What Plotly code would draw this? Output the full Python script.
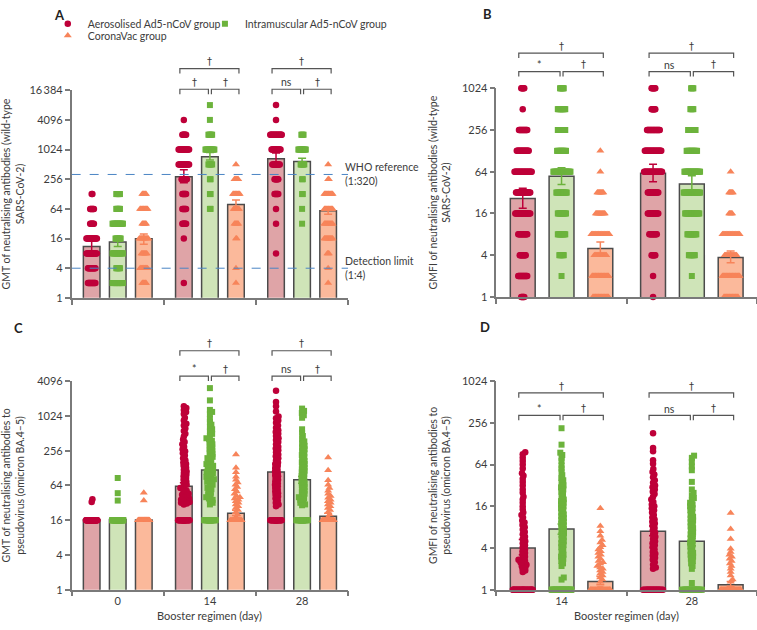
import numpy as np
import plotly.graph_objects as go

# ------------------------------------------------------------------ data
GROUPS = ["Aerosolised Ad5-nCoV group", "Intramuscular Ad5-nCoV group", "CoronaVac group"]
DAYS_AC = ["0", "14", "28"]
DAYS_BD = ["14", "28"]

# Panel A: wild-type GMT; 2-fold dilution levels and participants at each level (per day 0/14/28)
A_levels = [2, 4, 8, 16, 32, 64, 128, 256, 512, 1024, 2048, 4096, 8192]
A_aero_n = [[11, 11, 15, 15, 6, 6, 2, 0, 0, 0, 0, 0, 0],
            [1, 0, 0, 1, 6, 6, 6, 8, 15, 15, 6, 1, 0],
            [0, 0, 1, 0, 1, 1, 6, 6, 11, 13, 17, 1, 1]]
A_im_n = [[15, 6, 15, 8, 15, 6, 6, 0, 0, 0, 0, 0, 0],
          [0, 0, 0, 0, 0, 2, 2, 2, 6, 13, 6, 1, 1],
          [0, 0, 0, 0, 1, 1, 2, 2, 6, 11, 4, 0, 0]]
A_cv_n = [[6, 11, 8, 13, 6, 11, 6, 0, 0, 0, 0, 0, 0],
          [1, 1, 0, 2, 6, 8, 10, 6, 1, 0, 0, 0, 0],
          [1, 1, 3, 12, 12, 12, 12, 2, 1, 0, 0, 0, 0]]
A_aero_gmt = [11.0, 286, 670]
A_aero_lo = [8.4, 218, 520]
A_aero_hi = [14.2, 400, 870]
A_im_gmt = [13.6, 734, 585]
A_im_lo = [11.0, 630, 465]
A_im_hi = [16.5, 890, 680]
A_cv_gmt = [15.8, 79, 59]
A_cv_lo = [12.2, 64, 50]
A_cv_hi = [19.8, 97, 70]
A_ref_values = [320, 4]
A_ref_labels = ["WHO reference<br>(1:320)", "Detection limit<br>(1:4)"]
A_sig = [None, ["†", "†", "†"], ["†", "ns", "†"]]   # [top, left, right]

# Panel B: wild-type GMFI (day 14 / 28)
B_levels = [1, 2, 4, 8, 16, 32, 64, 128, 256, 512, 1024]
B_aero_n = [[5, 13, 9, 13, 21, 20, 24, 17, 12, 1, 5],
            [1, 1, 6, 11, 15, 15, 25, 23, 18, 6, 6]]
B_im_n = [[0, 1, 7, 11, 12, 15, 24, 13, 11, 11, 6],
          [0, 1, 9, 13, 20, 23, 22, 15, 11, 5, 4]]
B_cv_n = [[22, 23, 17, 25, 13, 9, 1, 1, 0, 0, 0],
          [20, 24, 17, 24, 5, 6, 1, 0, 0, 0, 0]]
B_aero_gmt = [26.3, 61]
B_aero_lo = [19, 46]
B_aero_hi = [37, 82]
B_im_gmt = [55, 42.5]
B_im_lo = [42, 34]
B_im_hi = [73, 56]
B_cv_gmt = [5.0, 3.7]
B_cv_lo = [4.1, 3.1]
B_cv_hi = [6.2, 4.6]
B_sig = [["†", "*", "†"], ["†", "ns", "†"]]

# Panel C: omicron BA.4-5 pseudovirus GMT (day 0 / 14 / 28); values at the floor (16) counted separately
C_floor = 16
C_aero_floor_n = [45, 25, 25]
C_im_floor_n = [45, 25, 25]
C_cv_floor_n = [45, 28, 30]
C_aero_vals = [[37, 33],
               [1500, 1400, 1300, 1200, 1100, 950, 850, 750, 700, 620, 560, 500, 450, 400, 360, 330,
                300, 270, 250, 230, 210, 190, 175, 160, 150, 140, 130, 120, 112, 105, 98, 92, 86, 80,
                75, 70, 66, 62, 58, 55, 52, 49, 46, 44, 42, 40, 38, 36, 35, 34, 33, 32, 31, 30],
               [2800, 1780, 1500, 1220, 1000, 930, 850, 780, 700, 640, 580, 540, 500, 460, 420, 390,
                360, 330, 300, 280, 260, 240, 220, 205, 190, 175, 160, 150, 140, 130, 120, 112, 105,
                98, 92, 86, 80, 75, 70, 66, 62, 58, 54, 50, 47, 44, 41, 38, 35, 32, 30, 28]]
C_im_vals = [[86, 47, 35],
             [3100, 1900, 1300, 1200, 1100, 900, 800, 720, 650, 600, 550, 500, 460, 420, 400, 380,
              350, 330, 310, 290, 270, 256, 240, 225, 210, 200, 190, 180, 170, 160, 150, 145, 140,
              130, 125, 120, 115, 110, 105, 100, 95, 90, 86, 82, 78, 74, 70, 66, 62, 58, 55, 52, 48,
              45, 42, 40, 38, 36, 34, 32, 30],
             [1370, 1250, 1150, 1050, 950, 600, 520, 460, 410, 370, 340, 310, 290, 270, 250, 230,
              215, 200, 185, 170, 160, 150, 140, 130, 122, 115, 108, 100, 94, 88, 82, 77, 72, 68, 64,
              60, 56, 52, 49, 46, 43, 40, 38, 36, 34, 32, 30, 29]]
C_cv_vals = [[48, 35],
             [220, 130, 108, 90, 80, 72, 66, 60, 55, 50, 46, 42, 40, 38, 36, 34, 32, 30, 28, 26, 24,
              22, 20, 18],
             [195, 117, 79, 66, 58, 52, 46, 42, 39, 36, 34, 32, 30, 28, 26, 24, 22, 20, 18]]
C_aero_gmt = [16.3, 62, 109]
C_aero_lo = [16.0, 54, 94]
C_aero_hi = [16.8, 71, 126]
C_im_gmt = [16.4, 118, 80]
C_im_lo = [16.0, 102, 70]
C_im_hi = [17.0, 136, 92]
C_cv_gmt = [16.2, 21, 18.8]
C_cv_lo = [16.0, 19.3, 17.0]
C_cv_hi = [16.5, 23.7, 21.0]
C_sig = [None, ["†", "*", "†"], ["†", "ns", "†"]]

# Panel D: omicron BA.4-5 pseudovirus GMFI (day 14 / 28); values at the floor (1) counted separately
D_floor = 1
D_aero_floor_n = [30, 25]
D_im_floor_n = [30, 25]
D_cv_floor_n = [45, 45]
D_aero_vals = [[96, 90, 80, 72, 64, 56, 48, 44, 40, 36, 32, 28, 25, 22, 20, 18, 16, 14.5, 13, 12, 11,
                10, 9.3, 8.6, 8, 7.4, 6.8, 6.3, 5.8, 5.4, 5, 4.7, 4.4, 4.1, 3.8, 3.6, 3.4, 3.2, 3,
                2.8, 2.7, 2.6, 2.5, 2.4, 2.3, 2.2, 2.1, 2, 1.9, 1.8],
               [181, 111, 100, 74, 66, 55, 50, 46, 42, 38, 35, 32, 30, 28, 26, 24, 22, 20, 18.5, 17,
                16, 15, 14, 13, 12, 11, 10.3, 9.6, 9, 8.4, 7.8, 7.2, 6.7, 6.2, 5.8, 5.4, 5, 4.7, 4.4,
                4.1, 3.8, 3.5, 3.3, 3.1, 2.9, 2.7, 2.5, 2.3, 2.1, 2.0]]
D_im_vals = [[214, 124, 95, 88, 80, 72, 62, 56, 50, 45, 41, 38, 35, 32, 30, 28, 26, 24, 22, 20, 19,
              18, 17, 16, 15, 14, 13, 12.2, 11.5, 10.8, 10.2, 9.6, 9, 8.5, 8, 7.5, 7, 6.6, 6.2, 5.8,
              5.4, 5, 4.7, 4.4, 4.1, 3.8, 3.5, 3.2, 3, 2.8, 2.6, 2.4, 2.2, 1.5, 1.4],
             [86, 80, 70, 60, 53, 36, 28, 25, 23, 21, 19.5, 18, 17, 16, 15, 14, 13, 12, 11.3, 10.6,
              10, 9.4, 8.8, 8.2, 7.7, 7.2, 6.7, 6.3, 5.9, 5.5, 5.1, 4.8, 4.5, 4.2, 3.9, 3.6, 3.4,
              3.2, 3, 2.8, 2.6, 2.4, 2.2, 2.0, 1.25]]
D_cv_vals = [[15, 8.3, 7, 6, 5.2, 4.8, 4.4, 4.1, 3.8, 3.6, 3.4, 3.2, 3, 2.8, 2.6, 2.5, 2.4, 2.2, 2.1,
              2, 1.9, 1.8, 1.7, 1.6, 1.5, 1.4, 1.3],
             [12.8, 7.5, 5.4, 3.9, 3.5, 3.2, 3, 2.8, 2.6, 2.4, 2.2, 2, 1.8, 1.6, 1.4, 1.3]]
D_aero_gmt = [4.0, 7.0]
D_aero_lo = [3.2, 6.0]
D_aero_hi = [5.3, 8.3]
D_im_gmt = [7.5, 5.0]
D_im_lo = [6.3, 4.3]
D_im_hi = [8.9, 5.9]
D_cv_gmt = [1.31, 1.18]
D_cv_lo = [1.18, 1.12]
D_cv_hi = [1.55, 1.31]
D_sig = [["†", "*", "†"], ["†", "ns", "†"]]

# ------------------------------------------------------------------ styling / layout
W, H = 757, 630
FONT = "Lato, 'Open Sans', sans-serif"
PT_COL = ["#BE0039", "#6CB33C", "#F7845A"]
BAR_COL = ["#DFA4A7", "#CFE4B8", "#FBB99B"]
SYMB = ["circle", "square", "triangle-up"]
MSIZE = [6.5, 6, 7]
AXC = "#7a7a7a"
TXT = "#3c3c3c"


def expand(levels, counts):
    return list(np.repeat(levels, counts))


def with_floor(vals, floor, n):
    return list(vals) + [floor] * n


A_pts = [[expand(A_levels, c) for c in A_aero_n],
         [expand(A_levels, c) for c in A_im_n],
         [expand(A_levels, c) for c in A_cv_n]]
B_pts = [[expand(B_levels, c) for c in B_aero_n],
         [expand(B_levels, c) for c in B_im_n],
         [expand(B_levels, c) for c in B_cv_n]]
C_pts = [[with_floor(v, C_floor, n) for v, n in zip(C_aero_vals, C_aero_floor_n)],
         [with_floor(v, C_floor, n) for v, n in zip(C_im_vals, C_im_floor_n)],
         [with_floor(v, C_floor, n) for v, n in zip(C_cv_vals, C_cv_floor_n)]]
D_pts = [[with_floor(v, D_floor, n) for v, n in zip(D_aero_vals, D_aero_floor_n)],
         [with_floor(v, D_floor, n) for v, n in zip(D_im_vals, D_im_floor_n)],
         [with_floor(v, D_floor, n) for v, n in zip(D_cv_vals, D_cv_floor_n)]]

PANELS = [
    dict(key="A", ax="", x0=68, x1=346, ytop=85, ybot=297, ymax=16384, days=DAYS_AC, labels=False,
         pts=A_pts, gmt=[A_aero_gmt, A_im_gmt, A_cv_gmt], lo=[A_aero_lo, A_im_lo, A_cv_lo],
         hi=[A_aero_hi, A_im_hi, A_cv_hi], sig=A_sig, off=26.2, bw=16.7, d=0.75,
         by=(63, 84), letter=(56, 8), standoff=8,
         title="GMT of neutralising antibodies (wild-type<br>SARS-CoV-2)"),
    dict(key="B", ax="2", x0=495, x1=757, ytop=83, ybot=296, ymax=1024, days=DAYS_BD, labels=False,
         pts=B_pts, gmt=[B_aero_gmt, B_im_gmt, B_cv_gmt], lo=[B_aero_lo, B_im_lo, B_cv_lo],
         hi=[B_aero_hi, B_im_hi, B_cv_hi], sig=B_sig, off=39, bw=25, d=0.75,
         by=(47, 66), letter=(486, 7), standoff=9,
         title="GMFI of neutralising antibodies (wild-type<br>SARS-CoV-2)"),
    dict(key="C", ax="3", x0=68, x1=346, ytop=382, ybot=595, ymax=4096, days=DAYS_AC, labels=True,
         pts=C_pts, gmt=[C_aero_gmt, C_im_gmt, C_cv_gmt], lo=[C_aero_lo, C_im_lo, C_cv_lo],
         hi=[C_aero_hi, C_im_hi, C_cv_hi], sig=C_sig, off=26.2, bw=16.7, d=3.0,
         by=(351, 377), letter=(15, 328), standoff=14,
         title="GMT of neutralising antibodies to<br>pseudovirus (omicron BA.4–5)"),
    dict(key="D", ax="4", x0=495, x1=757, ytop=382, ybot=595, ymax=1024, days=DAYS_BD, labels=True,
         pts=D_pts, gmt=[D_aero_gmt, D_im_gmt, D_cv_gmt], lo=[D_aero_lo, D_im_lo, D_cv_lo],
         hi=[D_aero_hi, D_im_hi, D_cv_hi], sig=D_sig, off=39, bw=25, d=3.0,
         by=(394, 417), letter=(484, 327), standoff=9,
         title="GMFI of neutralising antibodies to<br>pseudovirus (omicron BA.4–5)"),
]


def swarm(values, centre, ppu, px_per_dbl, d, cap):
    """Deterministic beeswarm offsets (pixel space) converted to data units."""
    y = np.log2(np.asarray(values, float)) * px_per_dbl
    order = np.argsort(y, kind="stable")
    step = 0.25
    cands = [0.0]
    k = 1
    while k * step <= cap / 2 + 1e-9:
        cands += [k * step, -k * step]
        k += 1
    cands = np.array(cands)
    px, py = [], []
    xo = np.zeros(len(y))
    for i in order:
        c = 0.0
        if px:
            ax_ = np.array(px)
            ay_ = np.array(py)
            near = np.abs(ay_ - y[i]) < d
            if near.any():
                dx = cands[:, None] - ax_[near][None, :]
                dy = (y[i] - ay_[near])[None, :]
                md = np.sqrt(dx ** 2 + dy ** 2).min(axis=1)
                ok = np.where(md >= d - 1e-9)[0]
                c = cands[ok[0]] if len(ok) else cands[np.argmax(md)]
        xo[i] = c
        px.append(c)
        py.append(y[i])
    return centre + xo / ppu


fig = go.Figure()
layout = dict(width=W, height=H, margin=dict(l=0, r=0, t=0, b=0), paper_bgcolor="white",
              plot_bgcolor="white", barmode="overlay", font=dict(family=FONT, size=11, color=TXT),
              showlegend=True)
annotations = []
shapes = []

for P in PANELS:
    ncat = len(P["days"])
    ppu = (P["x1"] - P["x0"]) / ncat
    dbl = np.log2(P["ymax"])
    px_per_dbl = (P["ybot"] - P["ytop"]) / dbl
    xa, ya = "x" + P["ax"], "y" + P["ax"]
    cap = P["bw"] - 5
    centres = np.arange(ncat) + 0.5
    offs = np.array([-1, 0, 1]) * P["off"] / ppu

    # bars (geometric mean)
    for g in range(3):
        fig.add_trace(go.Bar(x=centres + offs[g], y=P["gmt"][g], width=P["bw"] / ppu,
                             marker=dict(color=BAR_COL[g], line=dict(color="#4b4b4b", width=1.5)),
                             xaxis=xa, yaxis=ya, showlegend=False, hoverinfo="skip"))
    # individual points
    for g in range(3):
        xs, ys = [], []
        for di in range(ncat):
            vals = P["pts"][g][di]
            xs += list(swarm(vals, centres[di] + offs[g], ppu, px_per_dbl, P["d"], cap))
            ys += list(vals)
        show = P["key"] == "A"
        fig.add_trace(go.Scatter(x=xs, y=ys, mode="markers", name=GROUPS[g],
                                 marker=dict(symbol=SYMB[g], size=MSIZE[g], color=PT_COL[g], line=dict(width=0)),
                                 xaxis=xa, yaxis=ya, cliponaxis=False, showlegend=show,
                                 legend=["legend", "legend2", "legend3"][g], legendgroup=GROUPS[g]))
    # error bars (95% CI)
    for g in range(3):
        gm = np.array(P["gmt"][g], float)
        fig.add_trace(go.Scatter(x=centres + offs[g], y=gm, mode="markers",
                                 marker=dict(size=1, color="rgba(0,0,0,0)"),
                                 error_y=dict(type="data", symmetric=False,
                                              array=np.array(P["hi"][g]) - gm,
                                              arrayminus=gm - np.array(P["lo"][g]),
                                              color=PT_COL[g], thickness=1.5, width=4),
                                 xaxis=xa, yaxis=ya, showlegend=False, hoverinfo="skip", cliponaxis=False))

    tickvals = [4 ** k for k in range(int(dbl // 2) + 1)]
    ticktext = [f"{v:,}".replace(",", "\u2009") if v >= 10000 else str(v) for v in tickvals]
    layout["xaxis" + P["ax"]] = dict(
        domain=[P["x0"] / W, P["x1"] / W], range=[0, ncat], anchor=ya, showgrid=False, zeroline=False,
        showline=True, linecolor=AXC, linewidth=1.5, ticks="", tickmode="array", tickvals=list(centres),
        ticktext=P["days"], showticklabels=P["labels"],
        tickfont=dict(size=11, color=TXT),
        minor=dict(ticks="outside", ticklen=5, tickwidth=1.5, tickcolor=AXC, tickmode="linear", tick0=0, dtick=1))
    layout["yaxis" + P["ax"]] = dict(
        domain=[1 - P["ybot"] / H, 1 - P["ytop"] / H], type="log", range=[0, np.log10(P["ymax"])],
        anchor=xa, showgrid=False, zeroline=False, showline=True, linecolor=AXC, linewidth=1.5,
        ticks="outside", ticklen=5, tickwidth=1.5, tickcolor=AXC, tickmode="array",
        tickvals=tickvals, ticktext=ticktext, tickfont=dict(size=11, color=TXT),
        title=dict(text=P["title"], standoff=P["standoff"], font=dict(size=10.5, color=TXT)))

    # significance brackets (paper coordinates derived from the bar positions)
    def xpx(xd):
        return P["x0"] + xd * ppu

    for di in range(ncat):
        s = P["sig"][di]
        if s is None:
            continue
        cx = [xpx(centres[di] + o) for o in offs]
        spans = [(cx[0] - 4, cx[2] + 3, P["by"][0]), (cx[0] - 4, cx[1] - 1.5, P["by"][1]),
                 (cx[1] + 1.5, cx[2] + 3, P["by"][1])]
        for (a, b, yy), lab in zip(spans, s):
            path = (f"M {a / W},{1 - (yy + 5) / H} L {a / W},{1 - yy / H} "
                    f"L {b / W},{1 - yy / H} L {b / W},{1 - (yy + 5) / H}")
            shapes.append(dict(type="path", xref="paper", yref="paper", path=path,
                               line=dict(color="#555555", width=1.2)))
            annotations.append(dict(x=(a + b) / 2 / W, y=1 - (yy - 7) / H, xref="paper", yref="paper",
                                    text=lab, showarrow=False, xanchor="center", yanchor="middle",
                                    font=dict(size=10 if lab == "†" else 10.5, color="#3a3a3a",
                                              family="'DejaVu Sans', sans-serif" if lab == "†" else FONT)))
    # panel letter
    annotations.append(dict(x=P["letter"][0] / W, y=1 - P["letter"][1] / H, xref="paper", yref="paper",
                            text=f"<b>{P['key']}</b>", showarrow=False, xanchor="center", yanchor="middle",
                            font=dict(size=13, color="#222222")))
    if P["labels"]:
        annotations.append(dict(x=(P["x0"] + P["x1"]) / 2 / W, y=1 - 621 / H, xref="paper", yref="paper",
                                text="Booster regimen (day)", showarrow=False, xanchor="center",
                                yanchor="middle", font=dict(size=11, color=TXT)))

# reference lines in panel A
for v, lab in zip(A_ref_values, A_ref_labels):
    shapes.append(dict(type="line", xref="x", yref="y", x0=0, x1=3, y0=v, y1=v,
                       line=dict(color="#4a84c4", width=1, dash="dash")))
    annotations.append(dict(x=3.0, y=np.log10(v), xref="x", yref="y", text=lab, showarrow=False,
                            xanchor="left", yanchor="middle", xshift=-5, align="left",
                            font=dict(size=10.5, color=TXT)))

leg_common = dict(orientation="v", xanchor="left", yanchor="middle", bgcolor="rgba(0,0,0,0)",
                  font=dict(size=10.5, color=TXT), itemwidth=30, borderwidth=0)
layout["legend"] = dict(x=44 / W, y=1 - 17 / H, **leg_common)
layout["legend2"] = dict(x=202 / W, y=1 - 17 / H, **leg_common)
layout["legend3"] = dict(x=44 / W, y=1 - 29 / H, **leg_common)
layout["annotations"] = annotations
layout["shapes"] = shapes
fig.update_layout(**layout)
fig.write_html("out.html", config={"displayModeBar": False},
               post_script="document.body.style.margin='0';document.body.style.padding='0';")
